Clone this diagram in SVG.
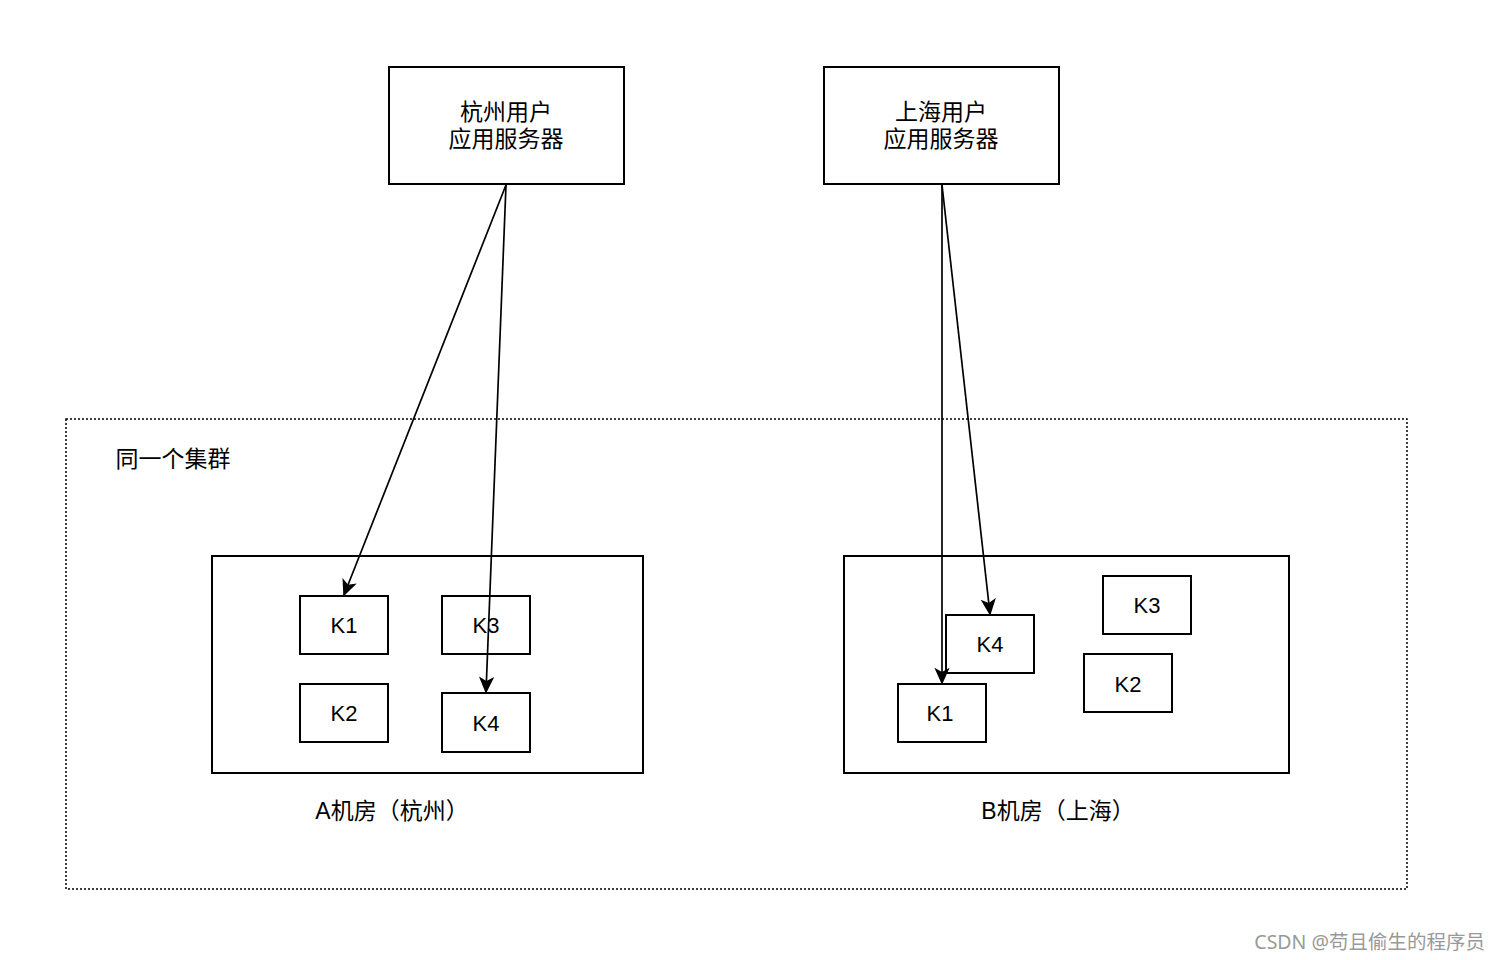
<svg xmlns="http://www.w3.org/2000/svg" width="1500" height="960" viewBox="0 0 1500 960">
<style>
.box{fill:#fff;stroke:#000;stroke-width:2}
.t{font-family:"Liberation Sans","Noto Sans CJK SC",sans-serif;font-size:22px;fill:#000;text-anchor:middle;dominant-baseline:central}
.cj{font-size:23px}
.c{fill:none;stroke:#000;stroke-width:1.7}
</style>
<defs>
<marker id="ah" viewBox="0 0 10 10" refX="9" refY="5" markerWidth="17" markerHeight="17" markerUnits="userSpaceOnUse" orient="auto">
<path d="M0,0.5 L10,5 L0,9.5 L2.5,5 Z" fill="#000"/>
</marker>
</defs>
<rect width="1500" height="960" fill="#fff"/>
<g id="cluster">
<rect x="66" y="419" width="1341" height="470" fill="none" stroke="#000" stroke-width="1.5" stroke-dasharray="2,2"/>
<text class="t cj" x="173" y="459">同一个集群</text>
</g>
<g id="hz-server"><rect class="box" x="389" y="67" width="235" height="117"/><text class="t cj" x="506" y="112">杭州用户</text><text class="t cj" x="506" y="139">应用服务器</text></g>
<g id="sh-server"><rect class="box" x="824" y="67" width="235" height="117"/><text class="t cj" x="941" y="112">上海用户</text><text class="t cj" x="941" y="139">应用服务器</text></g>
<g id="roomA"><rect class="box" x="212" y="556" width="431" height="217"/></g>
<text class="t cj" x="392" y="811">A机房（杭州）</text>
<g id="roomB"><rect class="box" x="844" y="556" width="445" height="217"/></g>
<text class="t cj" x="1058" y="811">B机房（上海）</text>
<g id="A-K1"><rect class="box" x="300" y="596" width="88" height="58"/><text class="t" x="344" y="625">K1</text></g>
<g id="A-K3"><rect class="box" x="442" y="596" width="88" height="58"/><text class="t" x="486" y="625">K3</text></g>
<g id="A-K2"><rect class="box" x="300" y="684" width="88" height="58"/><text class="t" x="344" y="713">K2</text></g>
<g id="A-K4"><rect class="box" x="442" y="693" width="88" height="59"/><text class="t" x="486" y="723">K4</text></g>
<g id="B-K3"><rect class="box" x="1103" y="576" width="88" height="58"/><text class="t" x="1147" y="605">K3</text></g>
<g id="B-K2"><rect class="box" x="1084" y="654" width="88" height="58"/><text class="t" x="1128" y="684">K2</text></g>
<g id="B-K4"><rect class="box" x="946" y="615" width="88" height="58"/><text class="t" x="990" y="644">K4</text></g>
<g id="B-K1"><rect class="box" x="898" y="684" width="88" height="58"/><text class="t" x="940" y="713">K1</text></g>
<g id="connectors">
<line class="c" x1="506" y1="185" x2="344" y2="595" marker-end="url(#ah)"/>
<line class="c" x1="506" y1="185" x2="486" y2="692" marker-end="url(#ah)"/>
<line class="c" x1="942" y1="185" x2="942" y2="683" marker-end="url(#ah)"/>
<line class="c" x1="942" y1="185" x2="990" y2="614" marker-end="url(#ah)"/>
</g>
<text x="1485" y="941" font-family="'Noto Sans','Noto Sans CJK SC',sans-serif" font-size="19.5" fill="#999" text-anchor="end" dominant-baseline="central">CSDN @苟且偷生的程序员</text>
</svg>
